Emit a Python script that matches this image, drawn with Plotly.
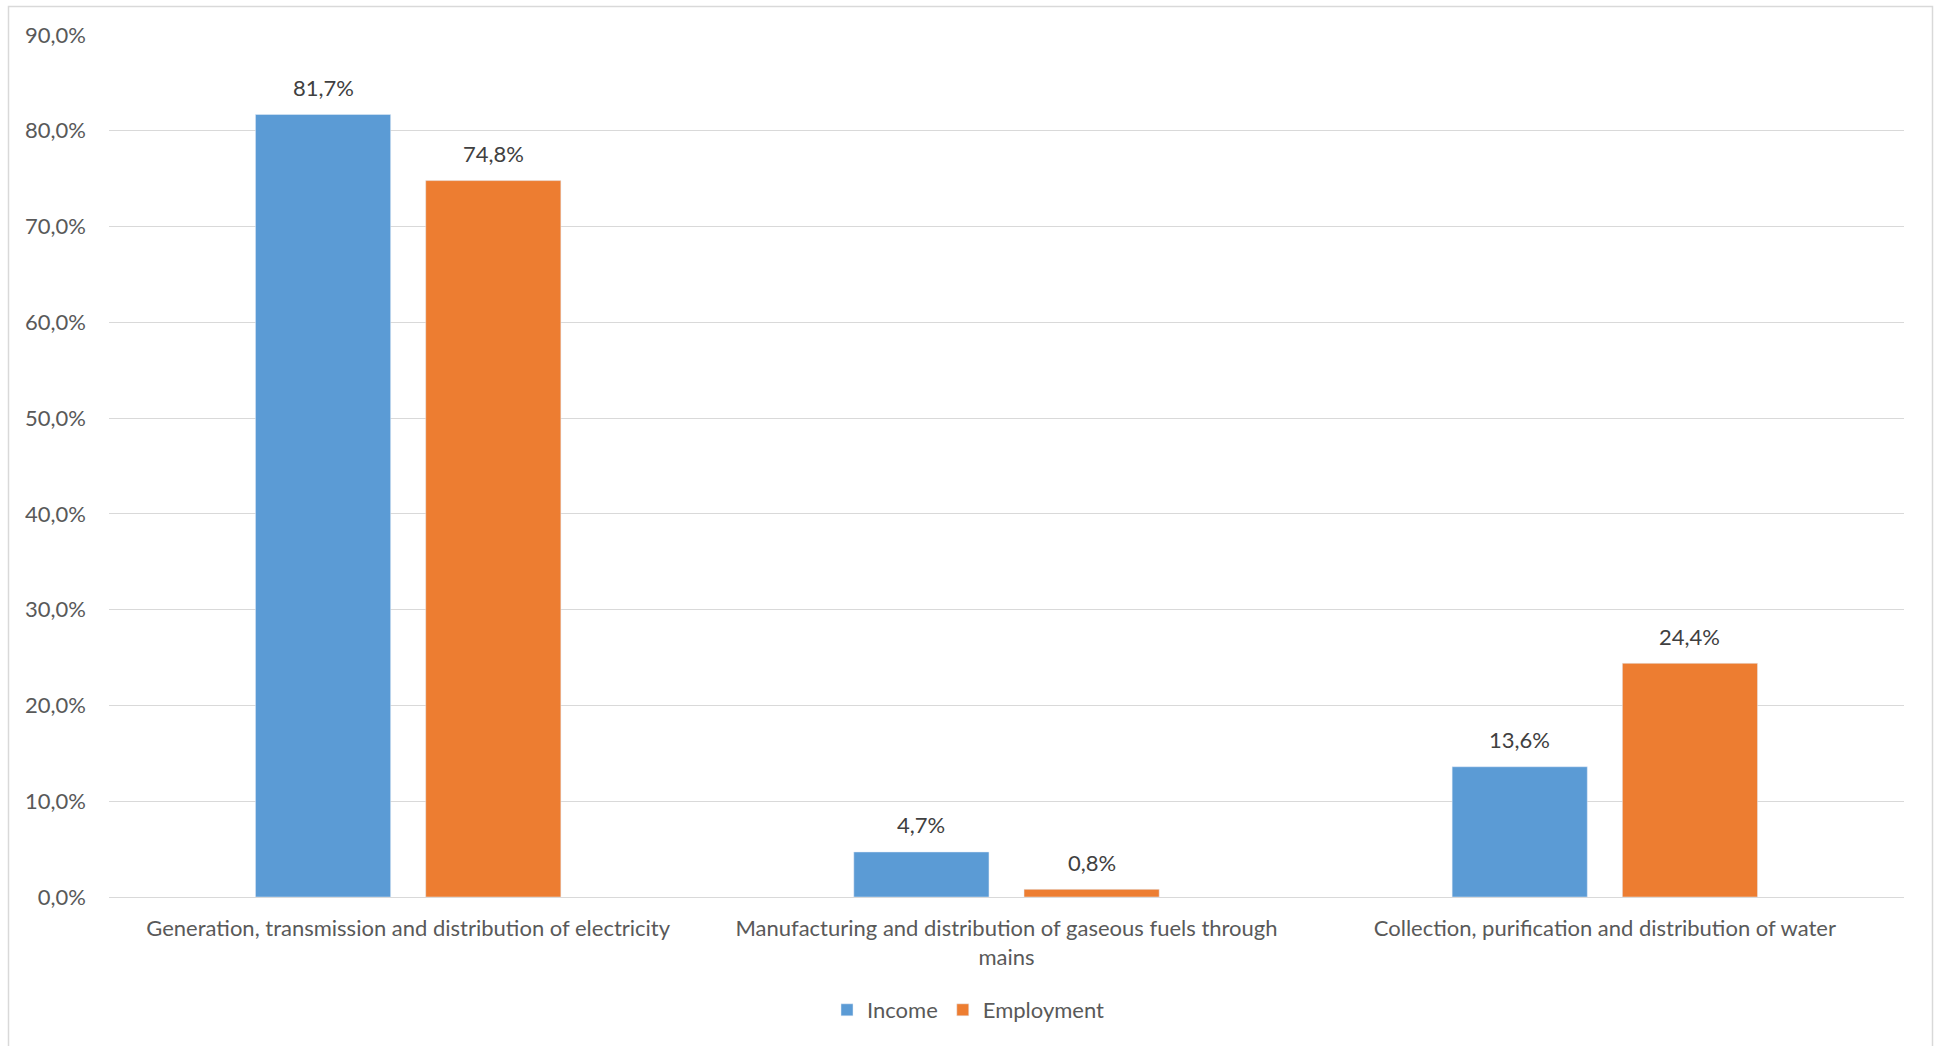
import plotly.graph_objects as go

categories = [
    "Generation, transmission and distribution of electricity",
    "Manufacturing and distribution of gaseous fuels through<br>mains",
    "Collection, purification and distribution of water",
]
income = [81.7, 4.7, 13.6]
employment = [74.8, 0.8, 24.4]
y_ticks = [0, 10, 20, 30, 40, 50, 60, 70, 80, 90]

BLUE = "#5B9BD5"
ORANGE = "#ED7D31"
TEXT = "#595959"
LABEL = "#404040"
GRID = "#D9D9D9"
FONT = "Lato"
FS = 22

W, H = 1939, 1046
ml, mr, mt, mb = 109, 35, 35, 149
pw = W - ml - mr
ph = H - mt - mb
BARGAP = 0.431
GROUPGAP = 0.206
cat_w = pw / len(categories)
slot = cat_w * (1 - BARGAP) / 2
offset_px = slot / 2

fig = go.Figure()
fig.add_trace(go.Bar(name="Income", x=categories, y=income, marker_color=BLUE))
fig.add_trace(go.Bar(name="Employment", x=categories, y=employment, marker_color=ORANGE))

annotations = []
for series, sign in ((income, -1), (employment, 1)):
    for cat, val in zip(categories, series):
        annotations.append(dict(
            x=cat, y=val, xref="x", yref="y", text=f"{val:.1f}%".replace(".", ","),
            showarrow=False, xshift=sign * offset_px, yshift=27, yanchor="middle",
            font=dict(family=FONT, size=FS, color=LABEL),
        ))

fig.update_layout(
    width=W, height=H,
    margin=dict(l=ml, r=mr, t=mt, b=mb, pad=0),
    paper_bgcolor="white", plot_bgcolor="white",
    separators=",.",
    barmode="group", bargap=BARGAP, bargroupgap=GROUPGAP,
    font=dict(family=FONT, color=TEXT, size=FS),
    showlegend=True,
    legend=dict(orientation="h", x=0.5 - 38 / pw, xanchor="center", y=(ph - (1010 - mt)) / ph,
                yanchor="middle", font=dict(size=FS, color=TEXT, family=FONT),
                itemwidth=30, tracegroupgap=0),
    xaxis=dict(showgrid=False, showline=False, zeroline=False, ticks="",
               tickfont=dict(size=FS, color=TEXT, family=FONT), ticklabelstandoff=16),
    yaxis=dict(range=[0, 90], tickvals=y_ticks,
               ticktext=[f"{v:.1f}%".replace(".", ",") for v in y_ticks],
               showgrid=True, gridcolor=GRID, gridwidth=1.3,
               zeroline=True, zerolinecolor=GRID, zerolinewidth=1.3,
               showline=False, ticks="", ticklabelstandoff=22,
               tickfont=dict(size=FS, color=TEXT, family=FONT)),
    annotations=annotations,
    shapes=[dict(type="rect", xref="paper", yref="paper",
                 x0=(8.5 - ml) / pw, x1=(1932.5 - ml) / pw,
                 y0=-0.3, y1=((H - mb) - 6.5) / ph,
                 line=dict(color=GRID, width=1.5), fillcolor="rgba(0,0,0,0)", layer="below")],
)

fig.write_html("out.html")
